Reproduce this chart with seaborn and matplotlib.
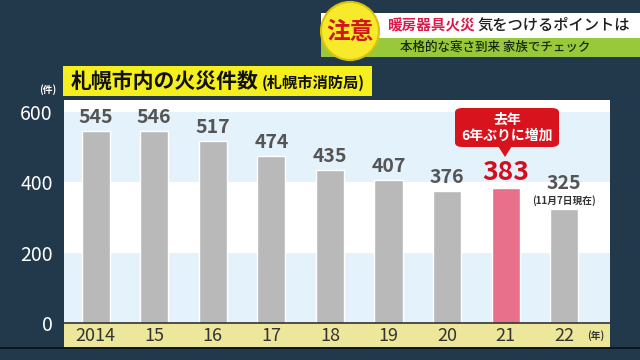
import matplotlib
matplotlib.use("Agg")
import matplotlib.pyplot as plt
import seaborn as sns
import pandas as pd
from matplotlib.patches import Rectangle, FancyBboxPatch, Polygon, Circle

years = ["2014", "15", "16", "17", "18", "19", "20", "21", "22"]
cases = [545, 546, 517, 474, 435, 407, 376, 383, 325]
yticks = [0, 200, 400, 600]
title = "札幌市内の火災件数"
subtitle = "(札幌市消防局)"
callout = "去年\n6年ぶりに増加"
note22 = "(11月7日現在)"
banner_red = "暖房器具火災"
banner_dark = "気をつけるポイントは"
banner_sub = "本格的な寒さ到来 家族でチェック"
badge = "注意"

sns.set_theme(style="white")
plt.rcParams["font.family"] = ["Noto Sans CJK JP", "DejaVu Sans"]

W, H = 640, 360
BG = "#22394c"
fig = plt.figure(figsize=(6.4, 3.6), dpi=100, facecolor=BG)

def fx(x):
    return x / W

def fy(y):
    return 1 - y / H

# axes area in pixels
L, R, T, B = 64, 610, 100, 323

# background pieces behind the axes
fig.patches.append(Rectangle((fx(L), fy(347)), fx(R - L), (347 - B) / H,
                             transform=fig.transFigure, facecolor="#ede79c",
                             edgecolor="none", zorder=-2))
fig.patches.append(Rectangle((0, fy(349)), 1, 2 / H, transform=fig.transFigure,
                             facecolor="#0e151b", edgecolor="none", zorder=-2))

ax = fig.add_axes([fx(L), fy(B), fx(R - L), (B - T) / H])
ax.set_facecolor("white")

light = "#e4f2fb"
ax.axhspan(0, 200, color=light, zorder=0, lw=0)
ax.axhspan(400, 600, color=light, zorder=0, lw=0)

df = pd.DataFrame({"year": years, "cases": cases})
colors = ["#b9b9b9"] * len(years)
colors[7] = "#e8708a"
sns.barplot(data=df, x="year", y="cases", hue="year", palette=colors,
            legend=False, width=0.48, ax=ax, saturation=1, zorder=2)

ax.set_ylim(0, 634)
ax.set_xlim(-0.54, 8.78)
ax.set_yticks(yticks)
ax.set_yticklabels([str(v) for v in yticks], color="white", fontsize=14)
ax.tick_params(axis="y", length=0, pad=8)
ax.tick_params(axis="x", length=0, pad=3, labelsize=13, labelcolor="#333333")
ax.set_xlabel("")
ax.set_ylabel("")
for s in ["top", "right", "left"]:
    ax.spines[s].set_visible(False)
ax.spines["bottom"].set_color("#333333")
ax.spines["bottom"].set_linewidth(1.2)

# value labels
for i, v in enumerate(cases):
    if i == 7:
        ax.annotate(str(v), (i, v), xytext=(0, 2), textcoords="offset points",
                    ha="center", va="bottom", fontsize=19, fontweight="bold",
                    color="#d01020", zorder=5)
    elif i == 8:
        ax.annotate(str(v), (i, v), xytext=(0, 11), textcoords="offset points",
                    ha="center", va="bottom", fontsize=14, fontweight="bold",
                    color="#555555", zorder=5)
        ax.annotate(note22, (i, v), xytext=(0, 2), textcoords="offset points",
                    ha="center", va="bottom", fontsize=7, fontweight="bold",
                    color="#333333", zorder=5)
    else:
        ax.annotate(str(v), (i, v), xytext=(0, 3), textcoords="offset points",
                    ha="center", va="bottom", fontsize=14, fontweight="bold",
                    color="#555555", zorder=5)

fig.text(fx(596), fy(336), "(年)", color="#333333", fontsize=7,
         fontweight="bold", ha="center", va="center")

# callout box
fig.patches.append(FancyBboxPatch((fx(455), fy(147)), fx(104), (147 - 108) / H,
                                  boxstyle="round,pad=0,rounding_size=0.012",
                                  transform=fig.transFigure, facecolor="#d7141e",
                                  edgecolor="none", zorder=6))
fig.patches.append(Polygon([(fx(498), fy(146)), (fx(512), fy(146)), (fx(505), fy(157))],
                           closed=True, transform=fig.transFigure,
                           facecolor="#d7141e", edgecolor="none", zorder=6))
fig.text(fx(507), fy(127.5), callout, color="white", fontsize=10,
         fontweight="bold", ha="center", va="center", linespacing=1.2, zorder=7)

# title box
fig.patches.append(Rectangle((fx(63), fy(96)), fx(309), (96 - 66) / H,
                             transform=fig.transFigure, facecolor="#f6ef1e",
                             edgecolor="none", zorder=3))
fig.text(fx(71), fy(81), title, color="#111111", fontsize=15,
         fontweight="bold", ha="left", va="center", zorder=4)
fig.text(fx(262), fy(83), subtitle, color="#111111", fontsize=11,
         fontweight="bold", ha="left", va="center", zorder=4)
fig.text(fx(48), fy(90), "(件)", color="white", fontsize=7,
         fontweight="bold", ha="center", va="center")

# top banner
fig.patches.append(Rectangle((fx(321), fy(38)), fx(319), (38 - 13) / H,
                             transform=fig.transFigure, facecolor="white",
                             edgecolor="none", zorder=3))
fig.patches.append(Rectangle((fx(321), fy(57)), fx(319), (57 - 38) / H,
                             transform=fig.transFigure, facecolor="#98c93a",
                             edgecolor="none", zorder=3))
fig.text(fx(387), fy(25.5), banner_red, color="#d81b4a", fontsize=10.5,
         fontweight="bold", ha="left", va="center", zorder=4)
fig.text(fx(478), fy(25.5), banner_dark, color="#1e1e1e", fontsize=11,
         fontweight="medium", ha="left", va="center", zorder=4)
fig.text(fx(400), fy(47.5), banner_sub, color="#1a2a10", fontsize=9,
         fontweight="medium", ha="left", va="center", zorder=4)

# badge circle (drawn in pixel space to stay round)
circ = Circle((350, H - 31), 29, transform=None, facecolor="#f7ea2a",
              edgecolor="#d9c20f", linewidth=1.5, zorder=5)
fig.patches.append(circ)
fig.text(fx(350), fy(32), badge, color="#d4141c", fontsize=17,
         fontweight="bold", ha="center", va="center", zorder=6)

fig.savefig("out.png", dpi=100, facecolor=BG)
